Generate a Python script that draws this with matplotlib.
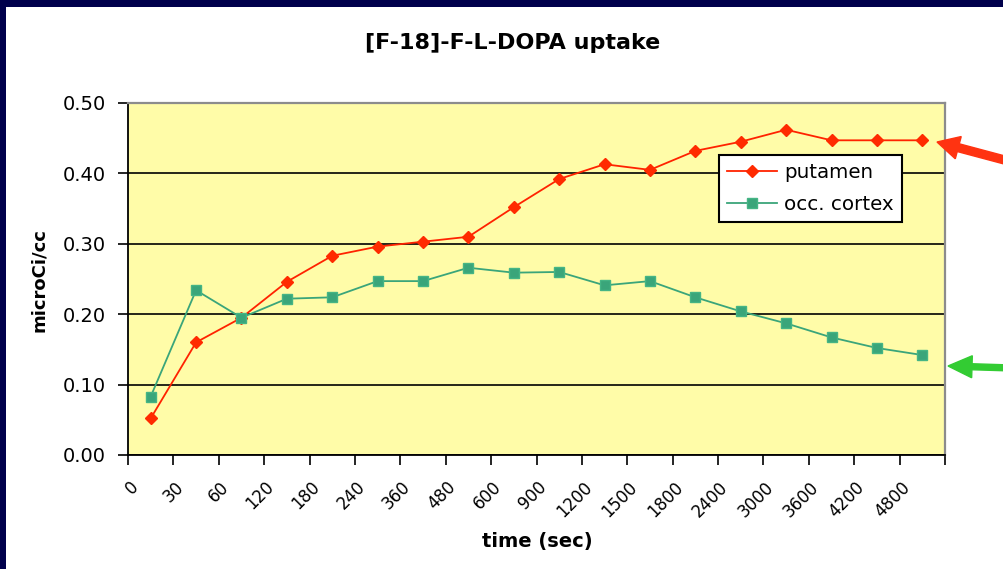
import matplotlib
matplotlib.use("Agg")
import matplotlib.pyplot as plt
from matplotlib.patches import Rectangle, FancyArrow
from matplotlib.transforms import IdentityTransform, ScaledTranslation

# time points (sec), shown as categories
time_labels = ["0", "30", "60", "120", "180", "240", "360", "480", "600", "900",
               "1200", "1500", "1800", "2400", "3000", "3600", "4200", "4800"]
putamen = [0.052, 0.160, 0.195, 0.246, 0.283, 0.296, 0.303, 0.310, 0.352, 0.392,
           0.413, 0.405, 0.432, 0.445, 0.462, 0.447, 0.447, 0.447]
occ_cortex = [0.083, 0.234, 0.195, 0.222, 0.224, 0.247, 0.247, 0.266, 0.259, 0.260,
              0.241, 0.247, 0.224, 0.204, 0.187, 0.167, 0.152, 0.142]
y_ticks = [0.0, 0.1, 0.2, 0.3, 0.4, 0.5]

W, H = 1004, 569
fig = plt.figure(figsize=(W / 100, H / 100), dpi=100)
fig.patch.set_facecolor("#00004C")
# white slide panel inside the dark frame
fig.add_artist(Rectangle((6 / W, 0), 1, 1 - 7 / H, transform=fig.transFigure,
                         facecolor="white", edgecolor="none", zorder=0))

ax = fig.add_axes([128 / W, 1 - 455 / H, 817 / W, 352 / H])
ax.set_facecolor("#FFFCA8")

x = [i + 0.5 for i in range(len(time_labels))]
ax.plot(x, putamen, color="#FF2200", lw=1.3, marker="D", ms=6.3,
        mfc="#FF2A00", mec="#FF2A00", label="putamen", zorder=3)
ax.plot(x, occ_cortex, color="#3AA57A", lw=1.3, marker="s", ms=6.8,
        mfc="#3AA57A", mec="#45B585", label="occ. cortex", zorder=3)

ax.set_xlim(0, len(time_labels))
ax.set_ylim(0, 0.5)
ax.set_yticks(y_ticks)
ax.set_yticklabels([f"{v:.2f}" for v in y_ticks], fontsize=14)
ax.set_xticks(range(len(time_labels) + 1))
ax.set_xticklabels([])
ax.tick_params(direction="out", length=7, width=1.2, color="black", pad=9)
ax.grid(axis="y", color="black", lw=1.2)
ax.set_axisbelow(True)

for side in ("left", "bottom"):
    ax.spines[side].set_color("black")
    ax.spines[side].set_linewidth(1.3)
for side in ("top", "right"):
    ax.spines[side].set_color("#8C8C8C")
    ax.spines[side].set_linewidth(1.6)

# rotated category labels, Excel style
offset = ScaledTranslation(-9 / 100, -23 / 100, fig.dpi_scale_trans)
for xi, lab in zip(x, time_labels):
    ax.text(xi, 0, lab, transform=ax.get_xaxis_transform() + offset,
            rotation=45, ha="right", va="top", fontsize=12)

leg = ax.legend(loc="upper left", bbox_to_anchor=(719 / W, 1 - 155 / H),
                bbox_transform=fig.transFigure, fontsize=14.3, frameon=True,
                fancybox=False, handlelength=2.5, borderpad=0.42,
                labelspacing=0.62, handletextpad=0.35, borderaxespad=0)
leg.get_frame().set_edgecolor("black")
leg.get_frame().set_linewidth(1.5)
leg.get_frame().set_alpha(1)

fig.text(513 / W, 1 - 43 / H, "[F-18]-F-L-DOPA uptake", fontsize=16,
         fontweight="bold", ha="center", va="center")
fig.text(39 / W, 1 - 280 / H, "microCi/cc", fontsize=13, fontweight="bold",
         rotation=90, ha="center", va="center")
fig.text(537 / W, 1 - 542 / H, "time (sec)", fontsize=14, fontweight="bold",
         ha="center", va="center")

# pointer arrows at the right edge
fig.add_artist(FancyArrow(1012, H - 162, -75, 20, width=8, head_width=23,
                          head_length=22, length_includes_head=True,
                          color="#FF3311", transform=IdentityTransform()))
fig.add_artist(FancyArrow(1012, H - 368, -64, 2, width=6, head_width=22,
                          head_length=24, length_includes_head=True,
                          color="#33CC33", transform=IdentityTransform()))

fig.savefig("out.png", dpi=100)
